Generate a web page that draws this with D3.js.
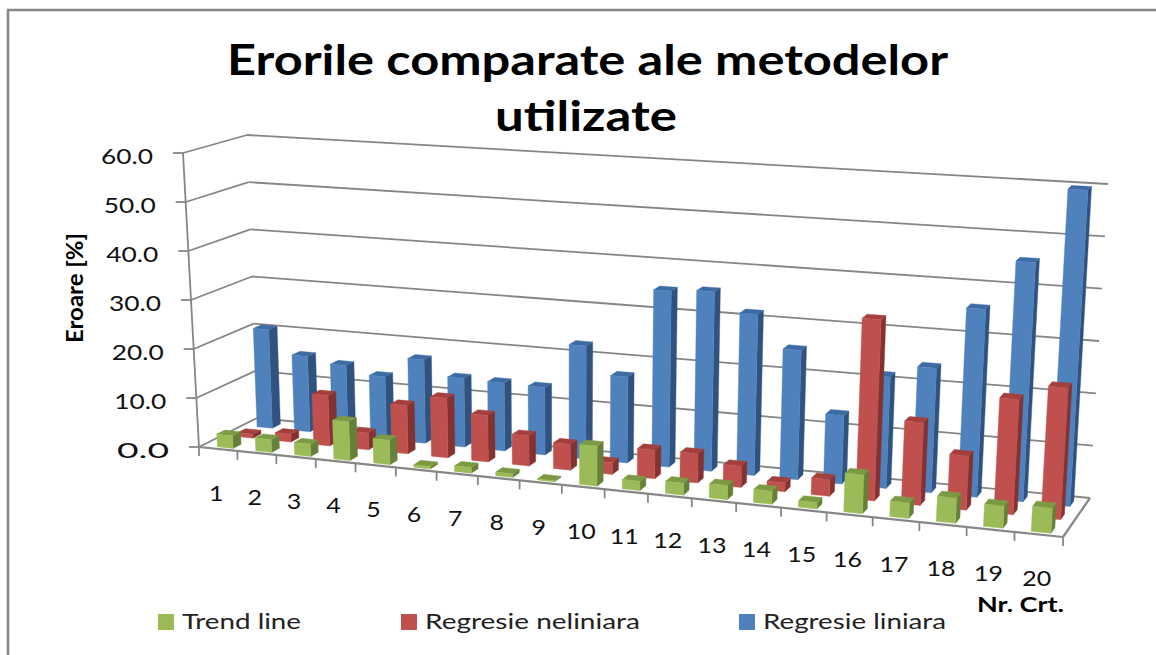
<!DOCTYPE html>
<html><head><meta charset="utf-8">
<script src="https://cdn.jsdelivr.net/npm/d3@7/dist/d3.min.js"></script>
<style>html,body{margin:0;padding:0;background:#fff}svg{display:block}</style>
</head><body><svg id="c" width="1156" height="655"></svg>
<script>
const title = ["Erorile comparate ale metodelor", "utilizate"];
const categories = ["1","2","3","4","5","6","7","8","9","10","11","12","13","14","15","16","17","18","19","20"];
const ticks = [0,10,20,30,40,50,60];
const trendLine = [2.6,2.6,2.5,7.8,4.9,0.5,1.1,0.7,0.2,7.8,1.8,2.3,2.7,2.5,1.2,7.3,2.9,4.7,4.1,4.6];
const regresieNeliniara = [0.8,1.6,10.3,3.4,9.8,12,9.3,6,5.1,2.3,5.6,5.7,4.1,1.7,3.2,34.6,15.7,10.2,21.7,24.6];
const regresieLiniara = [20.6,15.7,14.5,12.9,17.1,14,13.8,13.6,22.7,17.2,35,35.5,31.7,25.3,13.3,21.6,24,36,45.6,59.9];
const seriesNames = ["Trend line","Regresie neliniara","Regresie liniara"];

const svg = d3.select("#c");
const L = {fb:[199,447],ft:[183,153],bb:[257,418],bt:[247,135]};
const R = {fb:[1063,537],ft:[1083,210],bb:[1090,498],bt:[1108,184]};
const uScale = d3.scaleLinear().domain([0,categories.length]).range([0,1]);
const vScale = d3.scaleLinear().domain([0,60]).range([0,1]);
const persp = t => t/(1.13*(1-t)+t);
function lerp(a,b,t){return a+(b-a)*t;}
function P(cat,d,val){
  const u = persp(uScale(cat)), v = vScale(val);
  const corner = k => {
    const l = lerp(lerp(L.fb[k],L.ft[k],v),lerp(L.bb[k],L.bt[k],v),d);
    const r = lerp(lerp(R.fb[k],R.ft[k],v),lerp(R.bb[k],R.bt[k],v),d);
    return lerp(l,r,u);
  };
  return [corner(0),corner(1)];
}
const line = d3.line();
const grey = "#868686";
function seg(a,b,w){svg.append("path").attr("d",line([a,b])).attr("fill","none").attr("stroke",grey).attr("stroke-width",w||1.8);}

ticks.forEach(t=>{
  seg(P(0,0,t),P(0,1,t));
  seg(P(0,1,t),P(20,1,t));
  const a=P(0,0,t); seg([a[0]-10,a[1]],a);
});
seg(P(0,0,0),P(0,0,60));
seg(P(0,0,0),P(20,0,0),2.2);
seg(P(20,0,0),P(20,1,0),2.2);
d3.range(0,21).forEach(i=>{const a=P(i,0,0); seg(a,[a[0],a[1]+9]);});

const bandU=[0.31,0.72];
const drift=d3.scaleLinear().domain([0,categories.length-1]).range([0.08,0]);
const series=[
 {vals:regresieLiniara,d:[0.75,0.89],c:["#4F81BD","#2F527F","#3D6BA3"]},
 {vals:regresieNeliniara,d:[0.41,0.55],c:["#C0504D","#843230","#A33F3C"]},
 {vals:trendLine,d:[0.06,0.2],c:["#9BBB59","#66803A","#7C9A43"]}
];
series.forEach(s=>{
  const g=svg.append("g");
  g.selectAll("g").data(s.vals).join("g").each(function(v,i){
    const u0=i+bandU[0]+drift(i),u1=i+bandU[1]+drift(i),d0=s.d[0],d1=s.d[1];
    const sel=d3.select(this);
    const poly=(pts,c)=>sel.append("path").attr("d",line(pts)+"Z").attr("fill",c).attr("stroke",c).attr("stroke-width",0.4);
    poly([P(u1,d0,0),P(u1,d1,0),P(u1,d1,v),P(u1,d0,v)],s.c[1]);
    poly([P(u0,d0,v),P(u1,d0,v),P(u1,d1,v),P(u0,d1,v)],s.c[2]);
    poly([P(u0,d0,0),P(u1,d0,0),P(u1,d0,v),P(u0,d0,v)],s.c[0]);
  });
});

const font="Lato,'Open Sans',sans-serif";
function text(s,x,y,size,len,opt){
  opt=opt||{};
  const t=svg.append("text").text(s).attr("x",x).attr("y",y)
    .attr("font-family",font).attr("font-size",size).attr("fill",opt.fill||"#111")
    .attr("font-weight",opt.bold?"700":"400")
    .attr("text-anchor",opt.anchor||"start");
  if(len) t.attr("textLength",len).attr("lengthAdjust","spacingAndGlyphs");
  if(opt.rot) t.attr("transform",`rotate(${opt.rot} ${x} ${y})`);
  return t;
}
svg.append("path").attr("d",line([[8,655],[8,10],[1156,10]])).attr("stroke",grey).attr("stroke-width",2.6).attr("fill","none");

text(title[0],227,75,42,721,{bold:true,fill:"#000"});
text(title[1],495,131,42,182,{bold:true,fill:"#000"});

ticks.forEach(t=>{
  const a=P(0,0,t);
  text(d3.format(".1f")(t),a[0]-30,a[1]+10.5,21.5,52,{anchor:"end"});
});
categories.forEach((c,i)=>{
  const a=P(i+0.5,0,0);
  text(c,a[0]-2,a[1]+52,22,c.length>1?29:14.5,{anchor:"middle"});
});
text("Eroare [%]",83,343,22,110,{bold:true,rot:-90,fill:"#000"});
text("Nr. Crt.",977,612,20,87,{bold:true,fill:"#000"});

const lx=[158,401,739], tx=[182,425,763], tl=[119,215,183], lc=["#9BBB59","#C0504D","#4F81BD"];
seriesNames.forEach((n,i)=>{
  svg.append("rect").attr("x",lx[i]).attr("y",614).attr("width",16).attr("height",16).attr("fill",lc[i]);
  text(n,tx[i],629,22,tl[i],{fill:"#222"});
});
</script></body></html>
